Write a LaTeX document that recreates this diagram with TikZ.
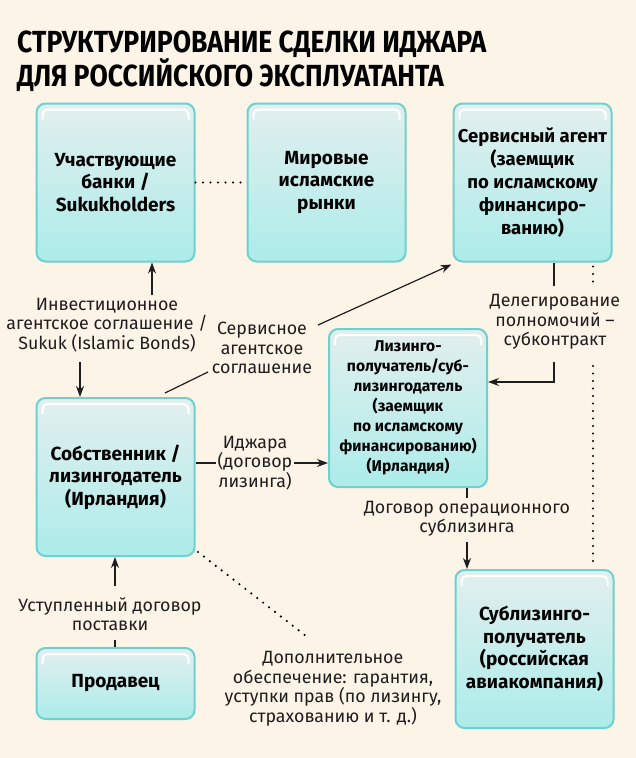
\documentclass[tikz,border=0pt]{standalone}
\usepackage{fontspec}
\setmainfont{Fira Sans}
\newfontfamily\titlefont[FakeStretch=0.87]{Fira Sans}
\usetikzlibrary{arrows.meta}
\definecolor{bg}{RGB}{253,244,232}
\definecolor{boxtop}{RGB}{226,239,238}
\definecolor{boxbot}{RGB}{172,236,234}
\definecolor{boxedge}{RGB}{110,208,207}
\definecolor{ink}{RGB}{30,30,30}
\tikzset{
  box/.style={rounded corners=9pt, draw=boxedge, line width=2pt,
    top color=boxtop, bottom color=boxbot, align=center, text=black,
    font=\bfseries\fontsize{19}{22.5}\selectfont, inner sep=0pt,
    path picture={\draw[white,line width=2pt,rounded corners=5pt]
      ([shift={(6pt,-16pt)}]path picture bounding box.north west) --
      ([shift={(6pt,-6pt)}]path picture bounding box.north west) --
      ([shift={(-6pt,-6pt)}]path picture bounding box.north east) --
      ([shift={(-6pt,-16pt)}]path picture bounding box.north east);}},
  bigbox/.style={box, minimum width=158pt, minimum height=158pt},
  lbl/.style={align=center, text=ink, font=\fontsize{17.8}{19.5}\selectfont, inner sep=2pt},
  ln/.style={draw=ink, line width=1.2pt},
  arr/.style={ln, -{Stealth[length=11pt,width=8pt]}},
  dotline/.style={draw=black, line width=2.4pt, line cap=round, dash pattern=on 0pt off 7.5pt},
}
\begin{document}
\begin{tikzpicture}
\useasboundingbox[fill=bg] (0,0) rectangle (636pt,-758pt);
% title
\node[anchor=north west, inner sep=0pt, align=left, font=\titlefont\bfseries\fontsize{30.5}{27}\selectfont] (title) at (17pt,-30.5pt)
  {СТРУКТУРИРОВАНИЕ СДЕЛКИ ИДЖАРА\\ДЛЯ РОССИЙСКОГО ЭКСПЛУАТАНТА};
% boxes
\node[bigbox] (b1) at (115.5pt,-182.5pt) {Участвующие\\банки /\\Sukukholders};
\node[bigbox] (b2) at (326.5pt,-182.5pt) {Мировые\\исламские\\рынки};
\node[bigbox, font=\bfseries\fontsize{18.5}{23}\selectfont] (b3) at (532.5pt,-182.5pt) {Сервисный агент\\(заемщик\\по исламскому\\финансиро-\\ванию)};
\node[bigbox] (b4) at (115.5pt,-477pt) {Собственник /\\лизингодатель\\(Ирландия)};
\node[bigbox, font=\bfseries\fontsize{15.6}{20}\selectfont] (b5) at (408pt,-408pt) {Лизинго-\\получатель/суб-\\лизингодатель\\(заемщик\\по исламскому\\финансированию)\\(Ирландия)};
\node[bigbox] (b6) at (534.5pt,-649pt) {Сублизинго-\\получатель\\(российская\\авиакомпания)};
\node[box, minimum width=158pt, minimum height=71pt] (b7) at (115.5pt,-683.5pt) {Продавец};
% labels
\node[lbl] (inv) at (107pt,-325pt) {Инвестиционное\\агентское соглашение /\\Sukuk (Islamic Bonds)};
\node[lbl] (srv) at (262pt,-348pt) {Сервисное\\агентское\\соглашение};
\node[lbl] (ij) at (255pt,-463pt) {Иджара\\(договор\\лизинга)};
\node[lbl] (del) at (555pt,-322pt) {Делегирование\\полномочий –\\субконтракт};
\node[lbl] (sub) at (467pt,-519pt) {Договор операционного\\сублизинга};
\node[lbl] (ust) at (110pt,-614pt) {Уступленный договор\\поставки};
\node[lbl] (dop) at (333pt,-689pt) {Дополнительное\\обеспечение: гарантия,\\уступки прав (по лизингу,\\страхованию и т. д.)};
% connectors
\draw[dotline] (b1.east) -- (b2.west);
\coordinate (a1) at (152pt,-295pt);
\draw[arr] (a1) -- (a1 |- b1.south);
\coordinate (a2) at (80pt,-362pt);
\draw[arr] (a2) -- (a2 |- b4.north);
\coordinate (s1) at (165pt,-393pt);
\coordinate (s2) at (208pt,-372pt);
\coordinate (s3) at (318pt,-325pt);
\draw[ln] (s1) -- (s2);
\draw[arr] (s3) -- ([shift={(-1pt,-2pt)}]b3.south west);
\draw[ln] (ij.west -| b4.east) -- (ij.west);
\draw[arr] (ij.east) -- (ij.east -| b5.west);
\coordinate (d1) at (554pt,-286pt);
\draw[ln] (d1 |- b3.south) -- (d1);
\coordinate (d2) at (554pt,-362pt);
\coordinate (d3) at (0,-382pt);
\draw[arr] (d2) |- (d3 -| b5.east);
\coordinate (v1) at (593pt,-287pt);
\coordinate (v2) at (593pt,-366pt);
\draw[dotline] ([yshift=-4pt]v1 |- b3.south) -- (v1);
\draw[dotline] (v2) -- ([yshift=4pt]v2 |- b6.north);
\coordinate (o1) at (467pt,-498pt);
\draw[ln] (o1 |- b5.south) -- (o1);
\coordinate (o2) at (467pt,-542pt);
\draw[arr] (o2) -- (o2 |- b6.north);
\coordinate (p1) at (115pt,-640pt);
\draw[ln] (p1 |- b7.north) -- (p1);
\coordinate (p2) at (115pt,-586pt);
\draw[arr] (p2) -- (p2 |- b4.south);
\coordinate (q1) at (198pt,-552pt);
\coordinate (q2) at (306pt,-636pt);
\draw[dotline] (q1) -- (q2);
\end{tikzpicture}
\end{document}
